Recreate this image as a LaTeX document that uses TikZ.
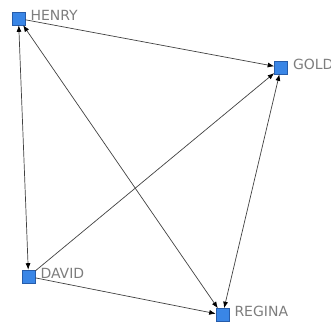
\documentclass[tikz,border=0pt]{standalone}
\usepackage{fontspec}
\setmainfont{DejaVu Sans}
\usepackage{xcolor}
\usepackage{tikz}
\usetikzlibrary{
  arrows.meta,
  positioning
}
\definecolor{actorfill}{RGB}{58,134,230}
\definecolor{actorline}{RGB}{38,92,170}
\definecolor{tiegray}{RGB}{65,65,65}
\definecolor{namegray}{RGB}{125,125,125}

\begin{document}
\begin{tikzpicture}[
  x=1pt,y=-1pt,
  actor/.style={rectangle,draw=actorline,fill=actorfill,minimum size=13pt,inner sep=0pt,line width=0.6pt},
  who/.style={text=namegray,font=\fontsize{14}{14}\selectfont,inner sep=0pt,right=5pt of #1,yshift=3.5pt},
  tie/.style={-{Latex[length=6.5pt,width=5pt,color=black]},draw=tiegray,line width=0.7pt},
  mutual/.style={{Latex[length=6.5pt,width=5pt,color=black]}-{Latex[length=6.5pt,width=5pt,color=black]},draw=tiegray,line width=0.7pt}
]
\useasboundingbox (0,0) rectangle (331,327);
\node[actor] (henry) at (18.5,18.5) {};
\node[actor] (gold) at (281,67.5) {};
\node[actor] (david) at (28.5,276.5) {};
\node[actor] (regina) at (222.5,315) {};
\node[who=henry] (henrylbl) {HENRY};
\node[who=gold] (goldlbl) {GOLD};
\node[who=david] (davidlbl) {DAVID};
\node[who=regina] (reginalbl) {REGINA};
\draw[mutual] (henry)--(david);
\draw[mutual] (henry)--(regina);
\draw[tie] (henry)--(gold);
\draw[tie] (david)--(gold);
\draw[mutual] (gold)--(regina);
\draw[tie] (david)--(regina);
\end{tikzpicture}
\end{document}
